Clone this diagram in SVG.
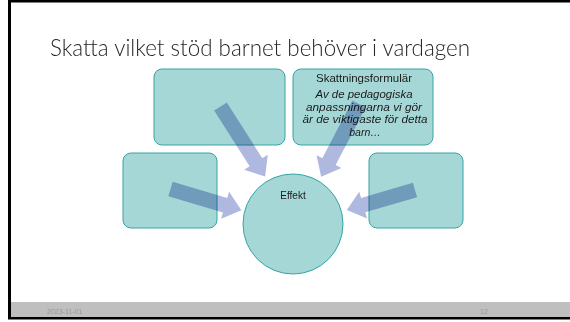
<svg xmlns="http://www.w3.org/2000/svg" width="570" height="322" viewBox="0 0 570 322">
  <style>
    .box { fill: #a5d7d7; stroke: #34a5a2; stroke-width: 1; }
    .arrow { fill: #afb8de; mix-blend-mode: multiply; }
    .t { font-family: "Liberation Sans", Arial, sans-serif; fill: #1a1a1a; }
    .title { font-family: "Lato", "Liberation Sans", sans-serif; font-weight: 300; font-size: 23px; fill: #262626; }
    .foot { font-family: "Liberation Sans", Arial, sans-serif; font-size: 7px; fill: #999999; }
  </style>
  <rect x="0" y="0" width="570" height="322" fill="#ffffff"/>
  <!-- slide frame -->
  <rect x="9.5" y="1" width="570" height="317" fill="none" stroke="#000000" stroke-width="3"/>
  <rect x="11" y="302" width="559" height="15" fill="#bfbfbf"/>
  <text class="foot" x="47" y="314">2023-11-01</text>
  <text class="foot" x="480" y="314">12</text>

  <text class="title" x="50" y="56" textLength="420" lengthAdjust="spacingAndGlyphs">Skatta vilket stöd barnet behöver i vardagen</text>

  <g id="node-top-left">
    <rect class="box" x="154" y="69" width="131" height="76" rx="8"/>
  </g>
  <g id="node-top-right">
    <rect class="box" x="293" y="69" width="140" height="76" rx="8"/>
    <text class="t" x="364" y="82" font-size="10.5" text-anchor="middle" textLength="96" lengthAdjust="spacingAndGlyphs">Skattningsformulär</text>
    <text class="t" x="364" y="98" font-size="10.5" font-style="italic" text-anchor="middle" textLength="97" lengthAdjust="spacingAndGlyphs">Av de pedagogiska</text>
    <text class="t" x="364" y="111" font-size="10.5" font-style="italic" text-anchor="middle" textLength="116" lengthAdjust="spacingAndGlyphs">anpassningarna vi gör</text>
    <text class="t" x="365" y="123" font-size="10.5" font-style="italic" text-anchor="middle" textLength="125" lengthAdjust="spacingAndGlyphs">är de viktigaste för detta</text>
    <text class="t" x="365" y="136" font-size="10.5" font-style="italic" text-anchor="middle">barn…</text>
  </g>
  <g id="node-left">
    <rect class="box" x="123" y="153" width="94" height="75" rx="8"/>
  </g>
  <g id="node-right">
    <rect class="box" x="369" y="153" width="94" height="75" rx="8"/>
  </g>
  <g id="node-effekt">
    <circle class="box" cx="293" cy="224" r="50"/>
    <text class="t" x="293" y="199" font-size="10" text-anchor="middle">Effekt</text>
  </g>

  <g id="connectors">
    <path class="arrow" transform="translate(220.5,106.5) rotate(57.5)" d="M0,-7.5 L66,-7.5 L66,-14 L83,0 L66,14 L66,7.5 L0,7.5 Z"/>
    <path class="arrow" transform="translate(359,104) rotate(117.5)" d="M0,-7.5 L65,-7.5 L65,-14 L82,0 L65,14 L65,7.5 L0,7.5 Z"/>
    <path class="arrow" transform="translate(170.5,189) rotate(16.6)" d="M0,-7.5 L57,-7.5 L57,-14 L74,0 L57,14 L57,7.5 L0,7.5 Z"/>
    <path class="arrow" transform="translate(415,190) rotate(163.7)" d="M0,-7.5 L54,-7.5 L54,-14 L71,0 L54,14 L54,7.5 L0,7.5 Z"/>
  </g>
</svg>
